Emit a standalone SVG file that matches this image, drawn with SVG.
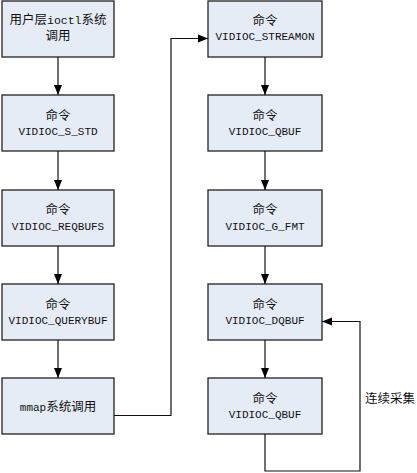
<svg xmlns="http://www.w3.org/2000/svg" width="417" height="473" viewBox="0 0 417 473">
<defs>
<marker id="ah" markerWidth="10" markerHeight="10" refX="10" refY="5" orient="auto" markerUnits="userSpaceOnUse">
<path d="M0,1 L10,5 L0,9 Z" fill="#000"/>
</marker>
<style>
.box{fill:#E6ECF6;stroke:#222;stroke-width:1.3}
.t{font-family:"Liberation Mono","Noto Sans CJK SC",monospace;font-size:11px;fill:#111;text-anchor:middle}
.c{font-family:"Noto Sans CJK SC",sans-serif;font-size:12.5px;fill:#111;text-anchor:middle}
.ln{fill:none;stroke:#111;stroke-width:1.2}
</style>
</defs>
<rect width="417" height="473" fill="#fff"/>
<g id="n1"><rect class="box" x="2" y="1" width="112" height="56"/>
<text class="c" x="58" y="23.5" font-size="12">用户层<tspan font-family="Liberation Mono" font-size="11.5">ioctl</tspan>系统</text>
<text class="c" x="58" y="40" font-size="12">调用</text></g>
<g id="n2"><rect class="box" x="2" y="95" width="112" height="56"/>
<text class="c" x="58" y="119.5">命令</text><text class="t" x="58" y="135">VIDIOC_S_STD</text></g>
<g id="n3"><rect class="box" x="2" y="190" width="112" height="56"/>
<text class="c" x="58" y="214">命令</text><text class="t" x="58" y="229.5">VIDIOC_REQBUFS</text></g>
<g id="n4"><rect class="box" x="2" y="284" width="112" height="56"/>
<text class="c" x="58" y="308.5">命令</text><text class="t" x="58" y="324">VIDIOC_QUERYBUF</text></g>
<g id="n5"><rect class="box" x="2" y="378" width="112" height="56"/>
<text class="c" x="58" y="410.5"><tspan font-family="Liberation Mono" font-size="11">mmap</tspan>系统调用</text></g>
<g id="n6"><rect class="box" x="208" y="1" width="114" height="56"/>
<text class="c" x="265" y="24.5">命令</text><text class="t" x="265" y="40">VIDIOC_STREAMON</text></g>
<g id="n7"><rect class="box" x="208" y="95" width="114" height="56"/>
<text class="c" x="265" y="119.5">命令</text><text class="t" x="265" y="135">VIDIOC_QBUF</text></g>
<g id="n8"><rect class="box" x="208" y="190" width="114" height="56"/>
<text class="c" x="265" y="214">命令</text><text class="t" x="265" y="229.5">VIDIOC_G_FMT</text></g>
<g id="n9"><rect class="box" x="208" y="284" width="114" height="56"/>
<text class="c" x="265" y="308.5">命令</text><text class="t" x="265" y="324">VIDIOC_DQBUF</text></g>
<g id="n10"><rect class="box" x="208" y="378" width="114" height="56"/>
<text class="c" x="265" y="402.5">命令</text><text class="t" x="265" y="418">VIDIOC_QBUF</text></g>
<g id="connectors">
<line class="ln" x1="58" y1="57" x2="58" y2="95" marker-end="url(#ah)"/>
<line class="ln" x1="58" y1="151" x2="58" y2="190" marker-end="url(#ah)"/>
<line class="ln" x1="58" y1="246" x2="58" y2="284" marker-end="url(#ah)"/>
<line class="ln" x1="58" y1="340" x2="58" y2="378" marker-end="url(#ah)"/>
<polyline class="ln" points="114,415.5 171,415.5 171,38.5 208,38.5" marker-end="url(#ah)"/>
<line class="ln" x1="265" y1="57" x2="265" y2="95" marker-end="url(#ah)"/>
<line class="ln" x1="265" y1="151" x2="265" y2="190" marker-end="url(#ah)"/>
<line class="ln" x1="265" y1="246" x2="265" y2="284" marker-end="url(#ah)"/>
<line class="ln" x1="265" y1="340" x2="265" y2="378" marker-end="url(#ah)"/>
<polyline class="ln" points="265,434 265,471 360,471 360,321.5 322,321.5" marker-end="url(#ah)"/>
</g>
<text class="c" x="390" y="402.5">连续采集</text>
</svg>
